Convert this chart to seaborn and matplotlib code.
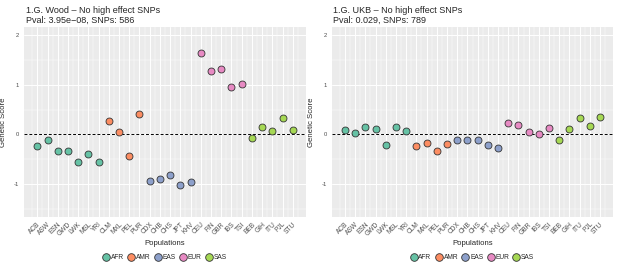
import matplotlib
matplotlib.use("Agg")
import matplotlib.pyplot as plt
from matplotlib.lines import Line2D
import seaborn as sns
import pandas as pd
import numpy as np

sns.set_theme(style="white")
plt.rcParams['font.family'] = ['Liberation Sans', 'DejaVu Sans']

populations = ["ACB", "ASW", "ESN", "GWD", "LWK", "MSL", "YRI",
               "CLM", "MXL", "PEL", "PUR",
               "CDX", "CHB", "CHS", "JPT", "KHV",
               "CEU", "FIN", "GBR", "IBS", "TSI",
               "BEB", "GIH", "ITU", "PJL", "STU"]
superpops = ["AFR"] * 7 + ["AMR"] * 4 + ["EAS"] * 5 + ["EUR"] * 5 + ["SAS"] * 5
groups = ["AFR", "AMR", "EAS", "EUR", "SAS"]

wood_scores = [-0.24, -0.11, -0.34, -0.34, -0.55, -0.40, -0.56,
               0.26, 0.05, -0.44, 0.42,
               -0.95, -0.90, -0.81, -1.02, -0.97,
               1.65, 1.28, 1.32, 0.96, 1.02,
               -0.07, 0.15, 0.07, 0.33, 0.09]
ukb_scores = [0.08, 0.02, 0.15, 0.10, -0.21, 0.14, 0.07,
              -0.24, -0.18, -0.33, -0.19,
              -0.11, -0.12, -0.12, -0.22, -0.28,
              0.23, 0.19, 0.04, 0.00, 0.12,
              -0.12, 0.11, 0.33, 0.17, 0.35]

titles = ["1.G. Wood \u2013 No high effect SNPs\nPval: 3.95e\u221208, SNPs: 586",
          "1.G. UKB \u2013 No high effect SNPs\nPval: 0.029, SNPs: 789"]

palette = dict(zip(groups, sns.color_palette("Set2", 5)))

fig = plt.figure(figsize=(6.17, 2.71), dpi=100)
axes = [fig.add_axes([24 / 617, 0.2004, 281.7 / 617, 0.699]),
        fig.add_axes([331.7 / 617, 0.2004, 281.3 / 617, 0.699])]

for ax, scores, title in zip(axes, [wood_scores, ukb_scores], titles):
    df = pd.DataFrame({"Populations": populations, "Score": scores, "Group": superpops})
    ax.set_facecolor("#EBEBEB")
    n = len(populations)
    # grid
    for i in range(n):
        ax.axvline(i, color="white", lw=0.7, zorder=0)
        ax.axvline(i + 0.5, color="white", lw=0.35, zorder=0)
    ax.axvline(-0.5, color="white", lw=0.35, zorder=0)
    for yv in [-1, 0, 1, 2]:
        ax.axhline(yv, color="white", lw=0.7, zorder=0)
    for yv in [-1.5, -0.5, 0.5, 1.5]:
        ax.axhline(yv, color="white", lw=0.35, zorder=0)
    ax.axhline(0, color="black", lw=0.7, ls=(0, (3, 2)), zorder=1)
    sns.stripplot(data=df, x="Populations", y="Score", hue="Group", palette=palette,
                  jitter=False, size=5, linewidth=0.6, edgecolor="#333333",
                  order=populations, hue_order=groups, ax=ax, zorder=3, legend=False)
    ax.set_xlim(-1.3, n - 1 + 1.27)
    ax.set_ylim(-1.66, 2.16)
    ax.set_yticks([-1, 0, 1, 2])
    ax.set_yticklabels(["-1", "0", "1", "2"], fontsize=4.2, color="#4D4D4D")
    ax.set_xticks(range(n))
    ax.set_xticklabels(populations, rotation=45, ha="right", rotation_mode="anchor",
                       fontsize=4.8, color="#4D4D4D")
    ax.tick_params(axis="both", length=2, width=0.5, color="#333333", pad=1.5)
    ax.tick_params(axis="x", length=2, pad=1)
    for s in ax.spines.values():
        s.set_visible(False)
    ax.set_xlabel("Populations", fontsize=5.6, labelpad=2)
    ax.set_ylabel("Genetic Score", fontsize=5.6, labelpad=5)
    ax.text(0.006, 1.014, title, transform=ax.transAxes, fontsize=6.5,
            ha="left", va="bottom", linespacing=1.15)
    handles = [Line2D([], [], marker="o", ls="", markersize=5.5, markerfacecolor=palette[g],
                      markeredgecolor="#333333", markeredgewidth=0.6, label=g) for g in groups]
    ax.legend(handles=handles, loc="center", bbox_to_anchor=(0.5, -0.218), ncol=5,
              frameon=False, fontsize=4.8, handletextpad=0.2, columnspacing=0.6,
              handlelength=1.0, borderaxespad=0, borderpad=0)

fig.savefig("out.png", dpi=100)
